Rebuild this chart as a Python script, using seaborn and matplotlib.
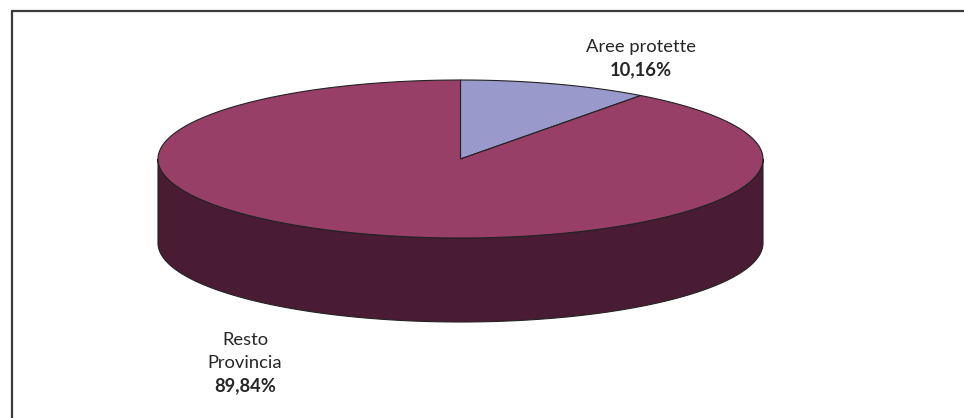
import numpy as np
import matplotlib
matplotlib.use("Agg")
import matplotlib.pyplot as plt
from matplotlib.patches import Polygon
from matplotlib.lines import Line2D
import seaborn as sns

# Share of the provincial territory
categories = ["Aree protette", "Resto\nProvincia"]
shares = [10.16, 89.84]

top_colors = ["#9999CC", "#983F68"]
side_colors = ["#4A4A73", "#4A1C33"]

sns.set_theme(style="white")
plt.rcParams["font.family"] = ["Lato", "DejaVu Sans"]

W, H, DPI = 964, 418, 100
fig = plt.figure(figsize=(W / DPI, H / DPI), dpi=DPI)
fig.patch.set_facecolor("white")

# Frame along the top and left edges
frame_col = "#3a3a3a"
fig.add_artist(Line2D([11.5 / W, 1.0], [1 - 10.5 / H, 1 - 10.5 / H],
                      transform=fig.transFigure, color=frame_col, lw=1.6))
fig.add_artist(Line2D([11.5 / W, 11.5 / W], [1 - 10.5 / H, 0.0],
                      transform=fig.transFigure, color=frame_col, lw=1.6))

# Pie geometry (unit radius, tilted disc with a visible rim)
px_per_unit = 302.5
cx_px, cy_px = 460.5, 159.0
tilt = 79.0 / px_per_unit
depth = 84.0 / px_per_unit

ax = fig.add_axes([0, 0, 1, 1])
ax.set_xlim(-cx_px / px_per_unit, (W - cx_px) / px_per_unit)
ax.set_ylim(-(H - cy_px) / px_per_unit, cy_px / px_per_unit)
ax.axis("off")

fractions = np.array(shares) / sum(shares)
start = np.pi / 2
bounds = []
a = start
for f in fractions:
    bounds.append((a, a - 2 * np.pi * f))  # clockwise
    a -= 2 * np.pi * f


def arc(a0, a1, n=200):
    t = np.linspace(a0, a1, n)
    return np.cos(t), tilt * np.sin(t)


edge_kw = dict(edgecolor="#222222", linewidth=0.8, joinstyle="round")

# Rim: only the front half (sin < 0) is visible
for (a0, a1), col in zip(bounds, side_colors):
    lo, hi = min(a0, a1), max(a0, a1)
    for k in range(-2, 2):
        s0, s1 = np.pi + 2 * np.pi * k, 2 * np.pi + 2 * np.pi * k
        v0, v1 = max(lo, s0), min(hi, s1)
        if v1 > v0:
            x, y = arc(v0, v1)
            pts = np.concatenate([np.column_stack([x, y]),
                                  np.column_stack([x[::-1], y[::-1] - depth])])
            ax.add_patch(Polygon(pts, closed=True, facecolor=col, **edge_kw))

# Top faces
for (a0, a1), col in zip(bounds, top_colors):
    x, y = arc(a0, a1)
    pts = np.vstack([[0, 0], np.column_stack([x, y])])
    ax.add_patch(Polygon(pts, closed=True, facecolor=col, **edge_kw))


def to_data(px, py):
    return (px - cx_px) / px_per_unit, (cy_px - py) / px_per_unit


def pct(v):
    return f"{v:.2f}%".replace(".", ",")


txt_col = "#262626"
fs = 13.2
# Labels for each slice
label_px = [(641, 47), (245, 340)]
line_h = 22.8
for name, v, (lx, ly) in zip(categories, shares, label_px):
    lines = name.split("\n")
    for i, ln in enumerate(lines):
        ax.text(*to_data(lx, ly + i * line_h), ln, ha="center", va="center",
                fontsize=fs, color=txt_col)
    ax.text(*to_data(lx, ly + len(lines) * line_h), pct(v), ha="center",
            va="center", fontsize=fs, fontweight="bold", color=txt_col)

fig.savefig("out.png", dpi=DPI, facecolor="white")
